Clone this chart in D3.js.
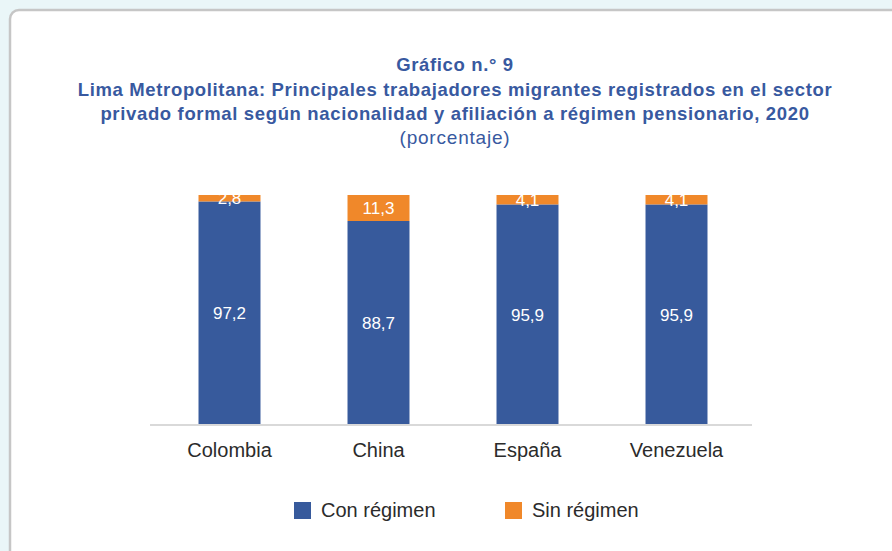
<!DOCTYPE html>
<html>
<head>
<meta charset="utf-8">
<script src="https://d3js.org/d3.v7.min.js"></script>
<style>
  body { margin: 0; background: #eaf6f8; }
  svg { display: block; }
</style>
</head>
<body>
<div id="chart"></div>
<script>
// data
var countries = ["Colombia", "China", "España", "Venezuela"];
var conRegimen = [97.2, 88.7, 95.9, 95.9];
var sinRegimen = [2.8, 11.3, 4.1, 4.1];
var seriesNames = ["Con régimen", "Sin régimen"];
var colors = ["#375a9c", "#f0882a"];

var W = 892, H = 551;
var svg = d3.select("#chart").append("svg").attr("width", W).attr("height", H);

// card with rounded border
svg.append("rect")
  .attr("x", 10).attr("y", 10).attr("width", 900).attr("height", 560)
  .attr("rx", 9)
  .attr("fill", "white").attr("stroke", "#c6c6c6").attr("stroke-width", 2.5);

// titles
var titleFont = "'Liberation Sans', Arial, sans-serif";
var titles = ["Gráfico n.° 9",
  "Lima Metropolitana: Principales trabajadores migrantes registrados en el sector",
  "privado formal según nacionalidad y afiliación a régimen pensionario, 2020"];
titles.forEach(function(t, i) {
  svg.append("text")
    .attr("x", 455).attr("y", 71 + i * 24.5)
    .attr("text-anchor", "middle")
    .style("font-family", titleFont)
    .style("font-weight", "bold")
    .style("font-size", "18.5px")
    .style("letter-spacing", "0.65px")
    .style("fill", "#3859a0")
    .text(t);
});
svg.append("text")
  .attr("x", 455).attr("y", 144)
  .attr("text-anchor", "middle")
  .style("font-family", titleFont)
  .style("font-size", "19px")
  .style("letter-spacing", "0.8px")
  .style("fill", "#3859a0")
  .text("(porcentaje)");

// scales
var x = d3.scaleBand()
  .domain(countries)
  .range([155, 751])
  .paddingInner(0.584)
  .paddingOuter(0.292);

var y = d3.scaleLinear().domain([0, 100]).range([425, 195]);

var rows = countries.map(function(c, i) {
  return { country: c, con: conRegimen[i], sin: sinRegimen[i] };
});
var stacked = d3.stack().keys(["con", "sin"])(rows);

var groups = svg.append("g").selectAll("g")
  .data(stacked).enter().append("g")
  .attr("fill", function(d, i) { return colors[i]; });

groups.selectAll("rect")
  .data(function(d) { return d; })
  .enter().append("rect")
  .attr("x", function(d) { return x(d.data.country); })
  .attr("y", function(d) { return y(d[1]); })
  .attr("width", x.bandwidth())
  .attr("height", function(d) { return y(d[0]) - y(d[1]); });

// value labels
var fmt = function(v) { return d3.format(".1f")(v).replace(".", ","); };
groups.selectAll("text")
  .data(function(d) { return d; })
  .enter().append("text")
  .attr("x", function(d) { return x(d.data.country) + x.bandwidth() / 2; })
  .attr("y", function(d) { return (y(d[0]) + y(d[1])) / 2; })
  .attr("dy", "0.36em")
  .attr("text-anchor", "middle")
  .style("font-family", "'Liberation Sans', Arial, sans-serif")
  .style("font-size", "17px")
  .style("fill", "white")
  .text(function(d) { return fmt(d[1] - d[0]); });

// x axis
var xAxis = svg.append("g")
  .attr("transform", "translate(0,425)")
  .call(d3.axisBottom(x).tickSize(0).tickPadding(18));
xAxis.select(".domain").attr("stroke", "#d9d9d9").attr("stroke-width", 2)
  .attr("d", "M150,0H752");
xAxis.selectAll("text")
  .style("font-family", "'Liberation Sans', Arial, sans-serif")
  .style("font-size", "20px")
  .style("fill", "#2b2b2b");

// legend
var legendX = [294, 505];
seriesNames.forEach(function(n, i) {
  svg.append("rect")
    .attr("x", legendX[i]).attr("y", 502)
    .attr("width", 17).attr("height", 17)
    .attr("fill", colors[i]);
  svg.append("text")
    .attr("x", legendX[i] + 27).attr("y", 517)
    .style("font-family", "'Liberation Sans', Arial, sans-serif")
    .style("font-size", "20px")
    .style("fill", "#2b2b2b")
    .text(n);
});
</script>
</body>
</html>
